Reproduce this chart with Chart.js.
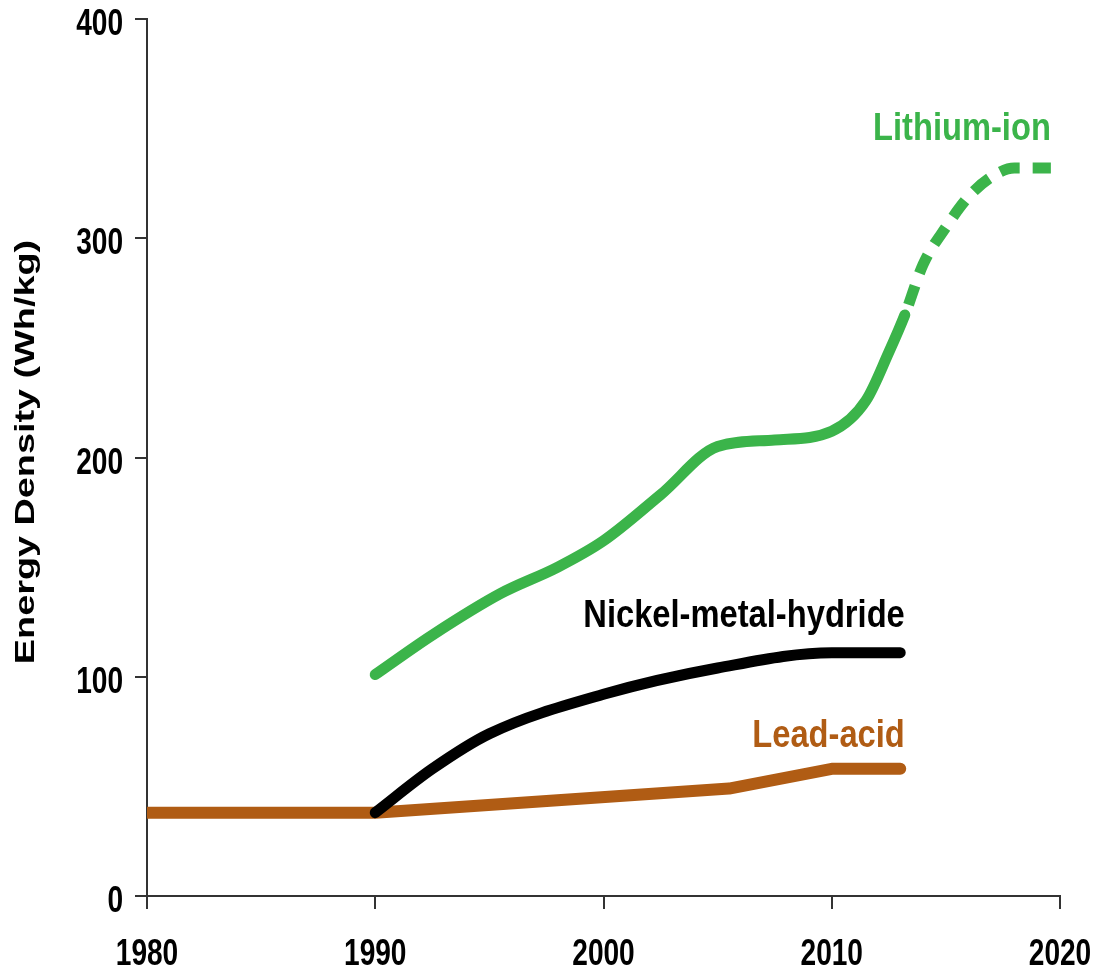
<!DOCTYPE html>
<html>
<head>
<meta charset="utf-8">
<script src="https://cdn.jsdelivr.net/npm/chart.js@4"></script>
<style>
  html, body { margin: 0; padding: 0; background: #fff; }
  #wrap { width: 1098px; height: 970px; }
</style>
</head>
<body>
<div id="wrap"><canvas id="chart" width="1098" height="970"></canvas></div>
<script>
// values (year, Wh/kg)
const liYears   = [1990, 1992.5, 1995.5, 1998, 2000, 2002.5, 2005, 2007.5, 2010, 2011.5, 2012.5, 2013.2, 2014, 2015, 2016, 2017, 2018, 2019.6];
const liValues  = [101, 119, 138, 150, 162, 183, 205, 208, 212, 226, 248, 265, 288, 305, 319, 328, 332, 332];
const liDashFrom = 2013.2; // projected part of the li-ion curve

const nimhYears  = [1990, 1992.5, 1995, 2000, 2005, 2010, 2013];
const nimhValues = [38, 58, 74, 92, 104, 111, 111];

const leadYears  = [1980, 1990, 2005.5, 2010, 2013];
const leadValues = [38, 38, 49, 58, 58];

const xTicks = [1980, 1990, 2000, 2010, 2020];
const yTicks = [0, 100, 200, 300, 400];
const yTitle = "Energy Density (Wh/kg)";

const seriesNames = ["Lithium-ion", "Nickel-metal-hydride", "Lead-acid"];
// right end of each name's baseline (year, value)
const labelYears  = [2019.6, 2013.2, 2013.2];
const labelValues = [345, 122.7, 68];

const GREEN = "#3bb44a";
const BROWN = "#b05c14";
const FONT = "'Liberation Sans', Arial, sans-serif";

function pts(xs, ys) {
  return xs.map((x, i) => ({ x: x, y: ys[i] }));
}

// the source picture is squeezed sideways, so text is drawn a bit condensed
function squeezedText(ctx, text, x, y, sx, align) {
  ctx.save();
  ctx.translate(x, y);
  ctx.scale(sx, 1);
  ctx.textAlign = align;
  ctx.fillText(text, 0, 0);
  ctx.restore();
}

const textLayer = {
  id: "textLayer",
  afterDraw(chart) {
    const ctx = chart.ctx;
    const xs = chart.scales.x, ys = chart.scales.y;
    ctx.save();
    ctx.textBaseline = "alphabetic";
    ctx.fillStyle = "#000";
    ctx.font = "bold 36px " + FONT;
    xTicks.forEach(v => squeezedText(ctx, String(v), xs.getPixelForValue(v), xs.top + 69, 0.78, "center"));
    yTicks.forEach(v => squeezedText(ctx, String(v), ys.right - 24, ys.getPixelForValue(v) + 16, 0.78, "right"));

    // axis title, rotated
    ctx.font = "bold 28px " + FONT;
    ctx.save();
    ctx.translate(34, (ys.top + ys.bottom) / 2 + (452 - 457.5));
    ctx.rotate(-Math.PI / 2);
    ctx.scale(1.35, 1);
    ctx.textAlign = "center";
    ctx.fillText(yTitle, 0, 0);
    ctx.restore();

    // series names
    const colors = [GREEN, "#000", BROWN];
    ctx.font = "bold 38px " + FONT;
    seriesNames.forEach((name, i) => {
      ctx.fillStyle = colors[i];
      squeezedText(ctx, name, xs.getPixelForValue(labelYears[i]), ys.getPixelForValue(labelValues[i]), 0.86, "right");
    });
    ctx.restore();
  }
};

new Chart(document.getElementById("chart"), {
  type: "line",
  data: {
    datasets: [
      {
        label: seriesNames[0],
        data: pts(liYears, liValues),
        borderColor: GREEN,
        borderWidth: 11,
        borderCapStyle: "round",
        cubicInterpolationMode: "monotone",
        pointRadius: 0,
        clip: false,
        segment: {
          borderDash: ctx => ctx.p0.parsed.x >= liDashFrom ? [20, 13] : undefined,
          borderDashOffset: ctx => ctx.p0.parsed.x >= liDashFrom ? -11 : undefined,
          borderCapStyle: ctx => ctx.p0.parsed.x >= liDashFrom ? "butt" : undefined
        }
      },
      {
        label: seriesNames[1],
        data: pts(nimhYears, nimhValues),
        borderColor: "#000",
        borderWidth: 11,
        borderCapStyle: "round",
        cubicInterpolationMode: "monotone",
        pointRadius: 0,
        clip: false
      },
      {
        label: seriesNames[2],
        data: pts(leadYears, leadValues),
        borderColor: BROWN,
        borderWidth: 12,
        borderCapStyle: "round",
        borderJoinStyle: "round",
        tension: 0,
        pointRadius: 0,
        clip: { left: 0, top: false, right: false, bottom: false }
      }
    ]
  },
  options: {
    responsive: false,
    animation: false,
    layout: { padding: { top: 19, right: 38, left: 0, bottom: 0 } },
    plugins: { legend: { display: false }, tooltip: { enabled: false } },
    scales: {
      x: {
        type: "linear",
        min: 1980,
        max: 2020,
        afterBuildTicks: s => { s.ticks = xTicks.map(v => ({ value: v })); },
        afterFit: s => { s.height = 74; },
        ticks: { display: false },
        grid: { drawOnChartArea: false, drawTicks: true, tickLength: 13, color: "#333", lineWidth: 2 },
        border: { display: true, color: "#333", width: 2 }
      },
      y: {
        min: 0,
        max: 400,
        afterBuildTicks: s => { s.ticks = yTicks.map(v => ({ value: v })); },
        afterFit: s => { s.width = 147; },
        title: { display: false, text: yTitle },
        ticks: { display: false },
        grid: { drawOnChartArea: false, drawTicks: true, tickLength: 12, color: "#333", lineWidth: 2 },
        border: { display: true, color: "#333", width: 2 }
      }
    }
  },
  plugins: [textLayer]
});
</script>
</body>
</html>
